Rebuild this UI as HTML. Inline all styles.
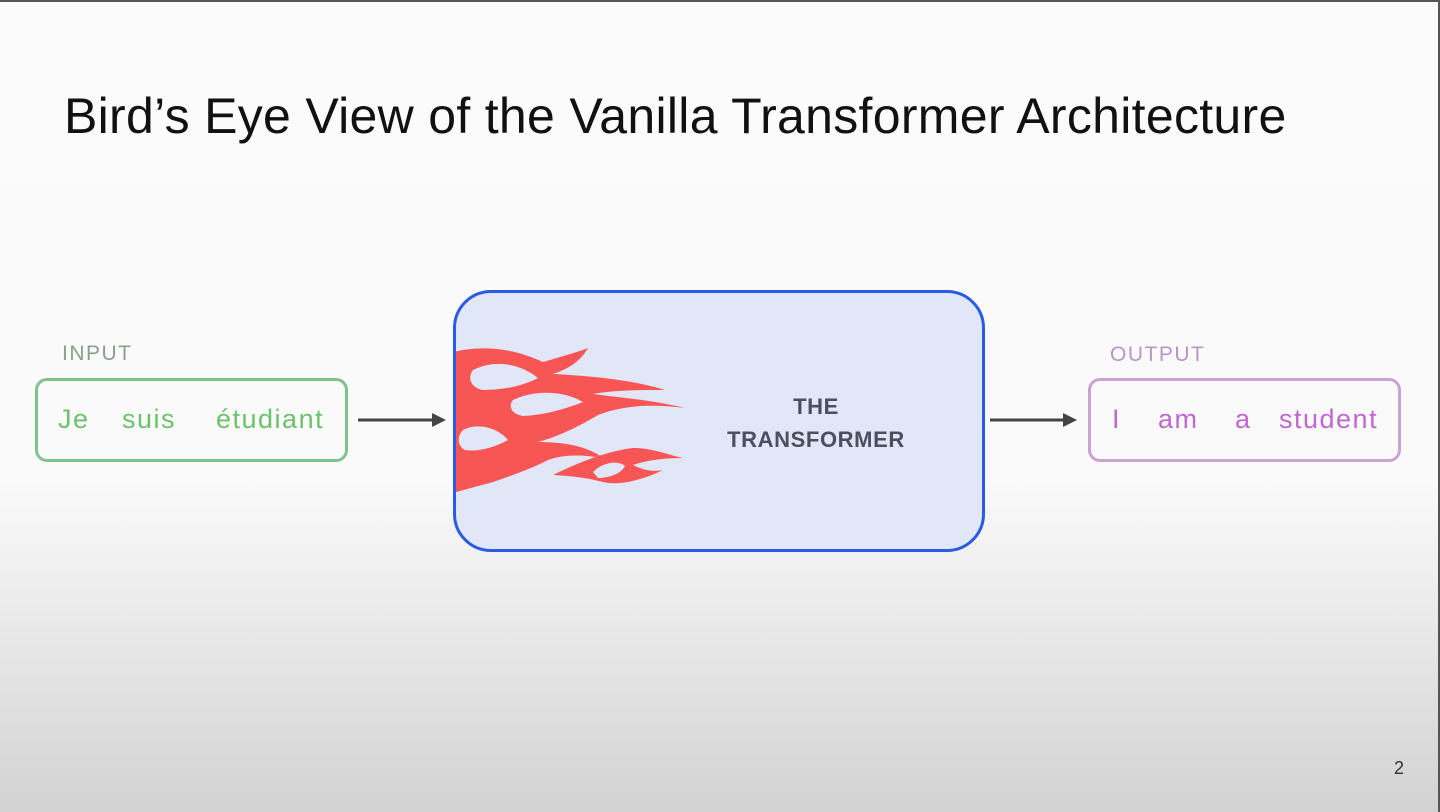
<!DOCTYPE html>
<html><head><meta charset="utf-8"><style>
html,body{margin:0;padding:0}
body{width:1440px;height:812px;position:relative;overflow:hidden;font-family:"Liberation Sans",sans-serif;
background:linear-gradient(to bottom,#fbfbfb 0px,#fafafa 480px,#e6e6e6 650px,#d2d2d2 812px);}
.t{position:absolute;left:64px;top:87px;font-size:50px;color:#111;white-space:nowrap;letter-spacing:0.3px}
.lbl{position:absolute;font-size:21px;color:#8a9a8a;letter-spacing:1.5px}
.box{position:absolute;border-radius:12px;box-sizing:border-box}
.w{position:absolute;font-size:27px;letter-spacing:1.5px}
</style></head><body>
<div style="position:absolute;left:0;top:0;width:1440px;height:2px;background:#555"></div>
<div style="position:absolute;right:0;top:0;width:2px;height:812px;background:#555"></div>
<div class="t">Bird’s Eye View of the Vanilla Transformer Architecture</div>
<div class="lbl" style="left:62px;top:342px;color:#8aa08a">INPUT</div>
<div class="box" style="left:35px;top:378px;width:313px;height:84px;border:3px solid #7fc28f;"></div>
<div class="w" style="left:58px;top:404px;color:#6cc26c">Je</div>
<div class="w" style="left:122px;top:404px;color:#6cc26c">suis</div>
<div class="w" style="left:216px;top:404px;color:#6cc26c">étudiant</div>
<div class="lbl" style="left:1110px;top:343px;color:#b895c8">OUTPUT</div>
<div class="box" style="left:1088px;top:378px;width:313px;height:84px;border:3px solid #c9a2d6;"></div>
<div class="w" style="left:1112px;top:404px;color:#c266d2">I</div>
<div class="w" style="left:1158px;top:404px;color:#c266d2">am</div>
<div class="w" style="left:1235px;top:404px;color:#c266d2">a</div>
<div class="w" style="left:1279px;top:404px;color:#c266d2">student</div>
<div class="box" style="left:453px;top:290px;width:532px;height:262px;border:3px solid #2a5ae6;border-radius:38px;background:#e2e7f7;overflow:hidden">
<svg width="532" height="262" style="position:absolute;left:-3px;top:-3px">
<g fill="#f85555">
<path d="M0 62 C30 55,60 58,90 72 C110 66,125 62,135 58 C128 70,118 78,100 84 C140 86,180 90,212 100 C185 100,160 100,140 104 C170 108,200 110,232 118 C200 114,170 115,145 125 C120 140,100 148,85 152 C110 152,135 156,150 168 C125 164,110 165,95 170 C80 178,60 185,40 192 C25 196,10 200,0 203 Z"/>
</g>
<g fill="#e2e7f7">
<path d="M20 80 C40 70,65 72,85 88 C70 96,50 100,30 100 C18 98,14 88,20 80 Z"/>
<path d="M60 110 C80 100,110 100,130 112 C110 120,90 125,70 126 C58 124,55 116,60 110 Z"/>
<path d="M10 140 C25 132,45 138,55 150 C40 158,25 162,12 160 C4 156,4 146,10 140 Z"/>
</g>
<g fill="#f85555">
<path d="M100 185 C130 170,160 160,180 158 C200 158,215 165,230 168 C210 168,195 170,180 175 C190 180,200 182,210 180 C190 190,165 196,150 192 C135 188,120 186,100 185 Z"/>
</g>
<g fill="#e2e7f7"><path d="M140 182 C150 172,165 170,172 176 C168 184,155 188,145 188 Z"/></g>
</svg>
<div style="position:absolute;left:260px;top:97px;width:200px;text-align:center;font-size:22px;font-weight:bold;color:#4a5060;line-height:33px;letter-spacing:0.6px">THE<br>TRANSFORMER</div>
</div>
<svg width="1440" height="812" style="position:absolute;left:0;top:0">
<line x1="358" y1="420" x2="434" y2="420" stroke="#444" stroke-width="3"/>
<polygon points="446,420 432,413 432,427" fill="#444"/>
<line x1="990" y1="420" x2="1064" y2="420" stroke="#444" stroke-width="3"/>
<polygon points="1077,420 1063,413 1063,427" fill="#444"/>
</svg>
<div style="position:absolute;left:1394px;top:758px;font-size:18px;color:#333">2</div>
</body></html>
